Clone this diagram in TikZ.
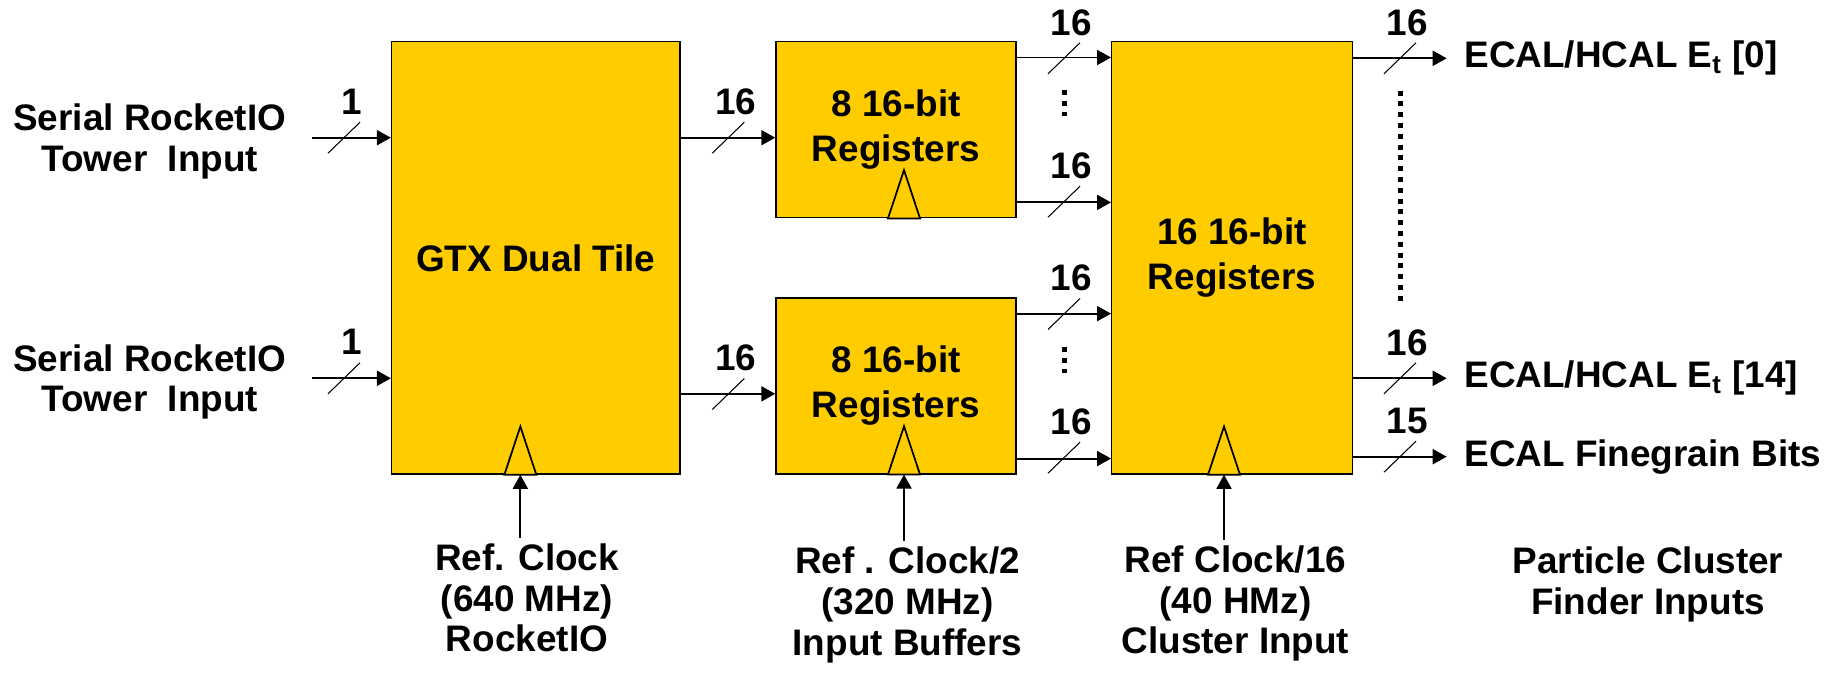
\documentclass[tikz,border=0pt]{standalone}
\usepackage{fontspec}
\setmainfont{Liberation Sans}
\usetikzlibrary{arrows.meta, positioning, calc}
\definecolor{regyellow}{HTML}{FFCC00}

\begin{document}
\begin{tikzpicture}[font=\fontsize{21}{23.2}\selectfont\bfseries,
      blk/.style={draw, line width=0.8pt, fill=regyellow, align=center, font=\fontsize{21}{25.8}\selectfont\bfseries},
      arr/.style={-{Triangle[length=2.8mm, width=3mm]}, line width=1.1pt},
      slash/.style={line width=0.6pt},
      clk/.style={draw, line width=1pt, fill=regyellow},
      vdot/.style={line width=1mm, dash pattern=on 1mm off 1.16mm},
      lbl/.style={align=center}]
  \useasboundingbox (0,0) rectangle (36.74,13.44);

  \node[blk, minimum width=5.77cm, minimum height=8.65cm] (gtx) at (10.717,8.283) {GTX Dual Tile};
  \node[blk, minimum width=4.8cm, minimum height=3.52cm] (r1) at (17.92,10.846) {8 16-bit\\Registers};
  \node[blk, minimum width=4.8cm, minimum height=3.52cm] (r2) at (17.92,5.723) {8 16-bit\\Registers};
  \node[blk, minimum width=4.81cm, minimum height=8.65cm] (cl) at (24.64,8.283) {16 16-bit\\Registers};

  \node[lbl] (in1) at (2.995,10.61) {Serial RocketIO\\Tower~ Input};
  \node[lbl] (in2) at (2.995,5.80) {Serial RocketIO\\Tower~ Input};
  \coordinate (a1) at (6.246,10.686);
  \coordinate (a2) at (6.246,5.874);
  \draw[arr] (a1) -- (a1 -| gtx.west);
  \draw[arr] (a2) -- (a2 -| gtx.west);

  \foreach \r in {r1,r2} {
    \coordinate (\r-in) at ([yshift=-1.6mm]\r.west);
    \coordinate (\r-top) at ([yshift=-3.3mm]\r.north east);
    \coordinate (\r-bot) at ([yshift=3.2mm]\r.south east);
    \draw[arr] (\r-in -| gtx.east) -- (\r-in);
    \draw[arr] (\r-top) -- (\r-top -| cl.west);
    \draw[arr] (\r-bot) -- (\r-bot -| cl.west);
  }

  \coordinate (e1) at (28.934,12.274);
  \coordinate (e2) at (28.934,5.874);
  \coordinate (e3) at (28.934,4.306);
  \foreach \e in {e1,e2,e3} \draw[arr] (\e -| cl.east) -- (\e);
  \node[right=0.23cm of e1] (o1) {ECAL/HCAL E\textsubscript{t} [0]};
  \node[right=0.23cm of e2] (o2) {ECAL/HCAL E\textsubscript{t} [14]};
  \node[right=0.23cm of e3] (o3) {ECAL Finegrain Bits};

  \foreach \x/\y/\w [count=\i] in {6.88/10.686/1, 6.88/5.874/1, 14.566/10.686/16, 14.566/5.56/16,
      21.28/12.274/16, 21.28/9.406/16, 21.28/7.16/16, 21.28/4.286/16,
      28.0/12.274/16, 28.0/5.874/16, 28.0/4.306/15} {
    \draw[slash] (\x-0.32,\y-0.31) -- (\x+0.32,\y+0.31);
    \node (w\i) at (\x+0.15,\y+0.72) {\w};
  }
  \draw[vdot] (21.28,11.64) -- (21.28,11.12);
  \draw[vdot] (21.28,6.5) -- (21.28,5.98);
  \draw[vdot] (28.0,11.626) -- (28.0,7.32);

  \coordinate (c1) at ([xshift=-3.1mm]gtx.south);
  \coordinate (c2) at ([xshift=1.6mm]r1.south);
  \coordinate (c3) at ([xshift=1.6mm]r2.south);
  \coordinate (c4) at ([xshift=-1.6mm]cl.south);
  \foreach \c in {c1,c2,c3,c4}
    \draw[clk] (\c) ++(-0.32,0) -- ++(0.32,0.966) -- ++(0.32,-0.966) -- cycle;

  \node[lbl, anchor=north] (t1) at (10.54,2.69) {Ref. Clock\\(640 MHz)\\RocketIO};
  \node[lbl, anchor=north] (t2) at (18.15,2.62) {Ref . Clock/2\\(320 MHz)\\Input Buffers};
  \node[lbl, anchor=north] (t3) at (24.71,2.65) {Ref Clock/16\\(40 HMz)\\Cluster Input};
  \node[lbl, anchor=north] (t4) at (32.96,2.62) {Particle Cluster\\Finder Inputs};
  \draw[arr] (t1.north -| c1) -- (c1);
  \draw[arr] (t2.north -| c3) -- (c3);
  \draw[arr] (t3.north -| c4) -- (c4);
\end{tikzpicture}
\end{document}
